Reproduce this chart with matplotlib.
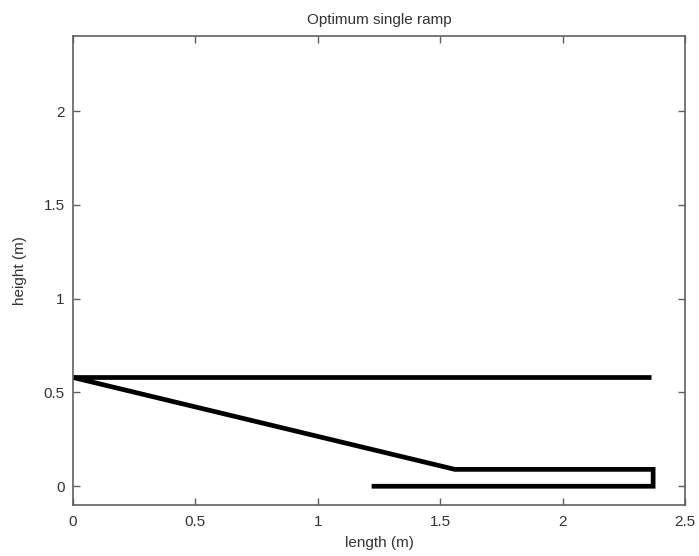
import matplotlib
matplotlib.use("Agg")
import matplotlib.pyplot as plt

# ramp outline (length, height) in metres
top_x = [0.0, 2.36]
top_y = [0.58, 0.58]
ramp_x = [0.0, 1.56, 2.37, 2.37, 1.22]
ramp_y = [0.58, 0.09, 0.09, 0.0, 0.0]

xticks = [0, 0.5, 1, 1.5, 2, 2.5]
xtick_labels = ['0', '0.5', '1', '1.5', '2', '2.5']
yticks = [0, 0.5, 1, 1.5, 2]
ytick_labels = ['0', '0.5', '1', '1.5', '2']

plt.rcParams['font.family'] = ['Liberation Sans', 'DejaVu Sans']
plt.rcParams['font.size'] = 11

fig = plt.figure(figsize=(6.99, 5.56), dpi=100)
ax = fig.add_axes([0.1044, 0.0917, 0.8755, 0.8435])

ax.plot(top_x, top_y, color='black', linewidth=3.4, solid_capstyle='butt')
ax.plot(ramp_x, ramp_y, color='black', linewidth=3.4,
        solid_capstyle='butt', solid_joinstyle='miter')

ax.set_xlim(0, 2.5)
ax.set_ylim(-0.1, 2.4)
ax.set_xticks(xticks)
ax.set_xticklabels(xtick_labels)
ax.set_yticks(yticks)
ax.set_yticklabels(ytick_labels)

text_col = '#333333'
for s in ax.spines.values():
    s.set_color('#606060')
    s.set_linewidth(1.2)
ax.tick_params(direction='in', length=5, width=1, color='#606060',
               labelcolor=text_col, labelsize=11, top=True, right=True)
ax.tick_params(axis='x', pad=7)
ax.tick_params(axis='y', pad=6)

ax.set_xlabel('length (m)', color=text_col, fontsize=11, labelpad=5)
ax.set_ylabel('height (m)', color=text_col, fontsize=11, labelpad=12)
ax.set_title('Optimum single ramp', color=text_col, fontsize=11, pad=9)

fig.savefig('out.png', dpi=100)
